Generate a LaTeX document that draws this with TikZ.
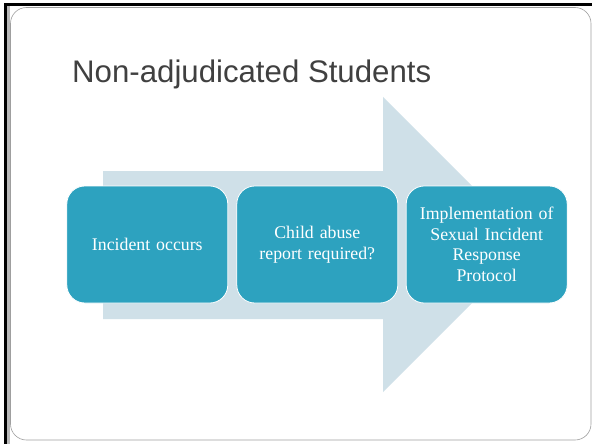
\documentclass[tikz,border=0pt]{standalone}
\usepackage{fontspec}
\setmainfont{Liberation Serif}
\newfontfamily\titlefont{Liberation Sans}
\definecolor{arrowblue}{HTML}{CFE0E8}
\definecolor{boxblue}{HTML}{2DA2BF}
\definecolor{titlegray}{HTML}{404040}
\tikzset{
  stepbox/.style={fill=boxblue, draw=white, line width=0.8pt, rounded corners=18pt,
    minimum width=161pt, minimum height=117pt, text width=152pt, align=center,
    text=white, inner sep=0pt, font=\fontsize{17.8}{20.5}\selectfont},
  frameline/.style={draw=gray!75, line width=0.6pt, rounded corners=16pt}
}
\begin{document}
\begin{tikzpicture}[x=1pt,y=-1pt]
\useasboundingbox (0,0) rectangle (592,444);
\fill[white] (0,0) rectangle (592,444);
% outer frame
\draw[gray!55, line width=2.5pt] (8.6,6) -- (8.6,444);
\draw[black, line width=3pt] (5.5,444) -- (5.5,4.5) -- (592,4.5);
\draw[frameline] (10.5,7.5) rectangle (591,440);
% title
\node[anchor=base west, inner sep=0pt, text=titlegray, font=\titlefont\fontsize{31.2}{36}\selectfont] (title) at (72,82) {Non-adjudicated Students};
% arrow
\fill[arrowblue] (103,171) -- (383,171) -- (383,97) -- (530.5,244.5) -- (383,392) -- (383,319) -- (103,319) -- cycle;
% boxes
\node[stepbox] (b1) at (147.3,244.5) {Incident occurs};
\node[stepbox] (b2) at (317.3,244.5) {Child abuse\\report required?};
\node[stepbox] (b3) at (486.7,244.5) {Implementation of\\Sexual Incident\\Response\\Protocol};
\end{tikzpicture}
\end{document}
